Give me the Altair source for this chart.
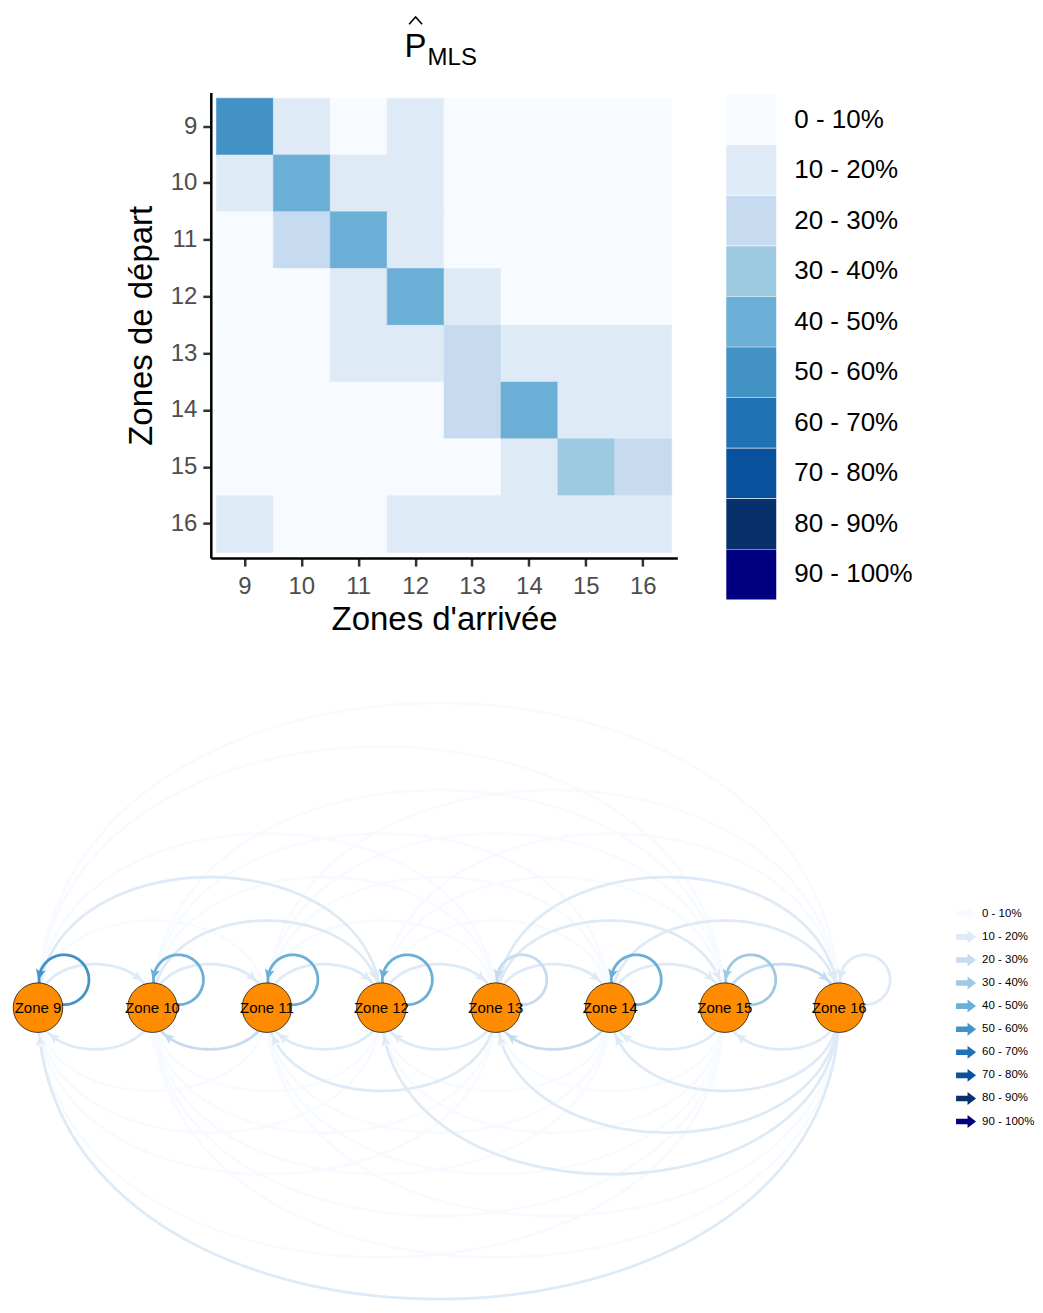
import altair as alt
import numpy as np
import pandas as pd

FONT = "Liberation Sans"

# ---------------- data ----------------
zones = [9, 10, 11, 12, 13, 14, 15, 16]
zone_names = ["Zone 9", "Zone 10", "Zone 11", "Zone 12", "Zone 13", "Zone 14", "Zone 15", "Zone 16"]

bin_labels = ["0 - 10%", "10 - 20%", "20 - 30%", "30 - 40%", "40 - 50%",
              "50 - 60%", "60 - 70%", "70 - 80%", "80 - 90%", "90 - 100%"]
bin_colors = ["#F7FBFF", "#DEEBF7", "#C6DBEF", "#9ECAE1", "#6BAED6",
              "#4292C6", "#2171B5", "#08519C", "#08306B", "#000080"]

# probability class (index in bin_labels) of P[from -> to], columns = arrival 9..16
row_9 = [5, 1, 0, 1, 0, 0, 0, 0]
row_10 = [1, 4, 1, 1, 0, 0, 0, 0]
row_11 = [0, 2, 4, 1, 0, 0, 0, 0]
row_12 = [0, 0, 1, 4, 1, 0, 0, 0]
row_13 = [0, 0, 1, 1, 2, 1, 1, 1]
row_14 = [0, 0, 0, 0, 2, 4, 1, 1]
row_15 = [0, 0, 0, 0, 0, 1, 3, 2]
row_16 = [1, 0, 0, 1, 1, 1, 1, 1]
rows = [row_9, row_10, row_11, row_12, row_13, row_14, row_15, row_16]

# transitions with a zero probability (no edge in the graph)
zero_from = [9, 10, 14]
zero_to = [14, 16, 9]

# ---------------- heatmap ----------------
heat = pd.DataFrame([
    {"from": f, "to": t, "label": bin_labels[rows[i][j]]}
    for i, f in enumerate(zones) for j, t in enumerate(zones)
])

axis_common = dict(
    labelFontSize=24, labelColor="#4D4D4D", labelFont=FONT,
    tickSize=8, tickWidth=2.5, tickColor="#333333",
    domainColor="black", domainWidth=2.5,
    titleFontSize=33, titleFontWeight="normal", titleColor="black", titleFont=FONT,
    grid=False,
)

heat_scale = alt.Scale(domain=bin_labels, range=bin_colors)

rect = alt.Chart(heat).mark_rect(strokeWidth=0.6).encode(
    x=alt.X("to:O", sort=zones, title="Zones d'arrivée",
            scale=alt.Scale(paddingInner=0, paddingOuter=0.1),
            axis=alt.Axis(labelAngle=0, labelPadding=8, titlePadding=5, **axis_common)),
    y=alt.Y("from:O", sort=zones, title="Zones de départ",
            scale=alt.Scale(paddingInner=0, paddingOuter=0.1),
            axis=alt.Axis(labelPadding=6, titlePadding=12, **axis_common)),
    fill=alt.Fill("label:N", scale=heat_scale,
                  legend=alt.Legend(title=None, orient="none", legendX=516, legendY=2,
                                    symbolType="square", symbolSize=2500,
                                    symbolStrokeWidth=0, symbolOpacity=1,
                                    labelFontSize=26, labelFont=FONT, labelColor="black",
                                    labelOffset=18, rowPadding=0.6, padding=0,
                                    labelLimit=300)),
    stroke=alt.Stroke("label:N", scale=heat_scale, legend=None),
)

title_p = alt.Chart(pd.DataFrame({"t": ["P"]})).mark_text(
    fontSize=33, align="center", baseline="alphabetic", color="black", font=FONT
).encode(text="t:N", x=alt.value(205), y=alt.value(-36))
title_sub = alt.Chart(pd.DataFrame({"t": ["MLS"]})).mark_text(
    fontSize=24, align="left", baseline="alphabetic", color="black", font=FONT
).encode(text="t:N", x=alt.value(217), y=alt.value(-28))
title_hat = alt.Chart(pd.DataFrame({"t": ["hat"]})).mark_point(
    shape="M-1,0.55L0,-0.55L1,0.55", size=169, filled=False, color="black",
    strokeWidth=1.6, opacity=1
).encode(x=alt.value(205), y=alt.value(-72))

heatmap = alt.layer(rect, title_p, title_sub, title_hat).properties(width=467, height=466)

spacer = alt.Chart(pd.DataFrame({"s": [0]})).mark_point(opacity=0).encode(
    x=alt.X("s:Q", axis=None), y=alt.Y("s:Q", axis=None)
).properties(width=117, height=10)

# ---------------- network ----------------
K_UP = 0.507           # curvature of the arcs above (zone units per span)
K_DOWN = 0.485         # curvature of the arcs below
R_NODE = 0.2444        # node radius (zone units)
A_OFF = 0.05           # arrow half length (zone units)
LOOP_DX, LOOP_DY, LOOP_R = 0.227, 0.244, 0.218

zero_set = set(zip(zero_from, zero_to))


def bez(P, t):
    t = np.asarray(t)[:, None]
    return ((1 - t) ** 3) * P[0] + 3 * ((1 - t) ** 2) * t * P[1] + 3 * (1 - t) * t * t * P[2] + (t ** 3) * P[3]


def bezd(P, t):
    return 3 * (1 - t) ** 2 * (P[1] - P[0]) + 6 * (1 - t) * t * (P[2] - P[1]) + 3 * t * t * (P[3] - P[2])


line_rows = []
arrow_rows = []
edges = []
for i, f in enumerate(zones):
    for j, t in enumerate(zones):
        if (f, t) in zero_set:
            continue
        edges.append((rows[i][j], f, t))
edges.sort(key=lambda e: e[0])

for edge_id, (b, f, t) in enumerate(edges):
    lab = bin_labels[b]
    if f != t:
        k = K_UP * (t - f) if t > f else -K_DOWN * (f - t)
        P = [np.array([f, 0.0]), np.array([f, k]), np.array([t, k]), np.array([t, 0.0])]
        ts = np.linspace(0, 1, 90)
        pts = bez(P, ts)
        for n, (px, py) in enumerate(pts):
            line_rows.append({"edge": edge_id, "o": n, "x": px, "y": py, "label": lab})
        fine = np.linspace(0.4, 1, 3001)
        fp = bez(P, fine)
        d = np.hypot(fp[:, 0] - t, fp[:, 1])
        idx = np.where(d >= R_NODE + A_OFF)[0][-1]
        dx, dy = bezd(P, fine[idx])
        ax, ay = fp[idx]
    else:
        cx, cy = f + LOOP_DX, LOOP_DY
        th = np.radians(np.linspace(-100, 190, 100))
        for n, a in enumerate(th):
            line_rows.append({"edge": edge_id, "o": n, "x": cx + LOOP_R * np.cos(a),
                              "y": cy + LOOP_R * np.sin(a), "label": lab})
        fine = np.radians(np.linspace(60, 200, 3001))
        px = cx + LOOP_R * np.cos(fine)
        py = cy + LOOP_R * np.sin(fine)
        d = np.hypot(px - f, py)
        idx = np.where(d <= R_NODE + A_OFF)[0][0]
        a = fine[idx]
        dx, dy = -np.sin(a), np.cos(a)
        ax, ay = px[idx], py[idx]
    ang = (np.degrees(np.arctan2(dx, dy)) + 360.0) % 360.0
    arrow_rows.append({"x": ax, "y": ay, "angle": ang, "label": lab})

lines_df = pd.DataFrame(line_rows)
arrows_df = pd.DataFrame(arrow_rows)
nodes_df = pd.DataFrame({"zone": zones, "name": zone_names, "y0": [0.0] * len(zones)})
legend_df = pd.DataFrame({"label": bin_labels})

NET_W, NET_H = 1000, 600
XDOM = [8.738, 17.466]
YDOM = [-2.505, 2.732]
xs = alt.Scale(domain=XDOM, nice=False, zero=False)
ys = alt.Scale(domain=YDOM, nice=False, zero=False)
cscale = alt.Scale(domain=bin_labels, range=bin_colors)

arcs = alt.Chart(lines_df).mark_line(strokeWidth=2.8, opacity=1).encode(
    x=alt.X("x:Q", scale=xs, axis=None),
    y=alt.Y("y:Q", scale=ys, axis=None),
    detail="edge:N",
    order=alt.Order("o:Q"),
    color=alt.Color("label:N", scale=cscale, legend=None),
)
nodes = alt.Chart(nodes_df).mark_circle(size=2463, fill="#FF8C00", stroke="black",
                                        strokeWidth=0.7, opacity=1).encode(
    x=alt.X("zone:Q", scale=xs, axis=None),
    y=alt.Y("y0:Q", scale=ys, axis=None),
)
heads = alt.Chart(arrows_df).mark_point(
    shape="M0,-1L0.8,0.8L0,0.35L-0.8,0.8Z", size=150, filled=True, opacity=1, strokeWidth=0
).encode(
    x=alt.X("x:Q", scale=xs, axis=None),
    y=alt.Y("y:Q", scale=ys, axis=None),
    angle=alt.Angle("angle:Q", scale=None),
    color=alt.Color("label:N", scale=cscale, legend=None),
)
node_text = alt.Chart(nodes_df).mark_text(fontSize=15, color="black", font=FONT).encode(
    x=alt.X("zone:Q", scale=xs, axis=None),
    y=alt.Y("y0:Q", scale=ys, axis=None),
    text="name:N",
)
graph = alt.layer(arcs, nodes, heads, node_text)

leg_y = alt.Y("label:N", sort=bin_labels, axis=None,
              scale=alt.Scale(type="point", range=[219, 427], padding=0))
leg_arrows = alt.Chart(legend_df).mark_point(
    shape="M-1,-0.28L0.15,-0.28L0.15,-0.65L1,0L0.15,0.65L0.15,0.28L-1,0.28Z",
    size=400, filled=True, opacity=1, strokeWidth=0
).encode(x=alt.value(959), y=leg_y,
         color=alt.Color("label:N", scale=cscale, legend=None))
leg_text = alt.Chart(legend_df).mark_text(align="left", baseline="middle", fontSize=11.5,
                                          color="black", font=FONT).encode(
    x=alt.value(975), y=leg_y, text="label:N")
leg = alt.layer(leg_arrows, leg_text)

network = alt.layer(graph, leg).resolve_scale(y="independent").properties(width=NET_W, height=NET_H)

top = alt.hconcat(spacer, heatmap, spacing=0).resolve_scale(
    fill="independent", stroke="independent").resolve_legend(fill="independent", stroke="independent")

chart = alt.vconcat(top, network, spacing=59).resolve_scale(
    fill="independent", stroke="independent", color="independent"
).resolve_legend(fill="independent", stroke="independent", color="independent").properties(
    padding={"left": 0, "top": 5, "right": 0, "bottom": 0}
).configure(font=FONT).configure_view(stroke=None)

chart.save("out.html", embed_options={"renderer": "svg", "actions": False})
